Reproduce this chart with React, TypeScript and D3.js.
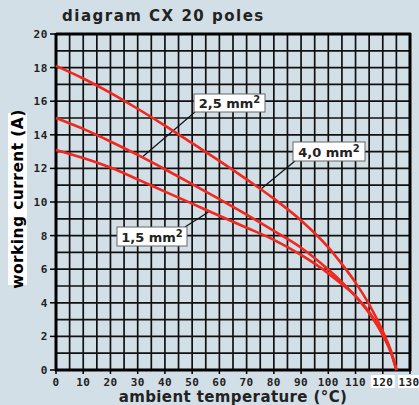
import React from "react";
import * as d3 from "d3";

const temps = [0, 10, 20, 30, 40, 50, 60, 70, 80, 90, 100, 105, 110, 115, 120, 123, 125];
const current40 = [18.1, 17.35, 16.5, 15.55, 14.55, 13.5, 12.45, 11.35, 10.2, 8.9, 7.3, 6.3, 5.2, 3.9, 2.3, 1.15, 0];
const current25 = [15.0, 14.35, 13.6, 12.8, 11.95, 11.07, 10.17, 9.25, 8.28, 7.28, 5.98, 5.23, 4.38, 3.38, 2.08, 1.06, 0];
const current15 = [13.1, 12.62, 12.05, 11.35, 10.62, 9.9, 9.18, 8.47, 7.75, 6.85, 5.75, 5.1, 4.4, 3.45, 2.1, 1.05, 0];

const xTicks = [0, 10, 20, 30, 40, 50, 60, 70, 80, 90, 100, 110, 120, 130];
const yTicks = [0, 2, 4, 6, 8, 10, 12, 14, 16, 18, 20];
const xGrid = d3.range(0, 131, 5);
const yGrid = d3.range(0, 21, 1);

const labels = [
  { text: "2,5 mm", t: 31.5, v: 12.65, bx: 194, by: 94, bw: 71, bh: 18, ax: 195, ay: 112 },
  { text: "1,5 mm", t: 56, v: 9.4, bx: 117, by: 227, bw: 70, bh: 19, ax: 185, ay: 227 },
  { text: "4,0 mm", t: 75.5, v: 10.8, bx: 293, by: 142, bw: 72, bh: 19, ax: 295, ay: 161 },
];

const W = 419;
const H = 405;
const BG = "#d3dfe6";
const RED = "#f0281e";

export default function App() {
  const x = d3.scaleLinear().domain([0, 130]).range([56, 410]);
  const y = d3.scaleLinear().domain([0, 20]).range([370, 34]);
  const line = d3
    .line<number>()
    .x((_, i) => x(temps[i]))
    .y((d) => y(d))
    .curve(d3.curveMonotoneX);
  const series = [current15, current25, current40];
  const mono = "'DejaVu Sans Mono', monospace";
  const sans = "'DejaVu Sans', sans-serif";

  return (
    <div style={{ position: "fixed", left: 0, top: 0 }}>
      <svg width={W} height={H} style={{ display: "block" }}>
        <rect x={0} y={0} width={W} height={H} fill={BG} />
        <text x={62} y={21} fontFamily={sans} fontWeight="bold" fontSize={15} letterSpacing={1.5} fill="#222">
          diagram CX 20 poles
        </text>
        {/* grid */}
        {xGrid.map((t) => (
          <line key={"gx" + t} x1={x(t)} x2={x(t)} y1={y(20)} y2={y(0)} stroke="#111" strokeWidth={1.7} />
        ))}
        {yGrid.map((v) => (
          <line key={"gy" + v} x1={x(0)} x2={x(130)} y1={y(v)} y2={y(v)} stroke="#111" strokeWidth={1.7} />
        ))}
        {/* frame */}
        <line x1={x(0)} x2={x(0)} y1={y(20) - 1} y2={y(0) + 1} stroke="#000" strokeWidth={3} />
        <line x1={x(0) - 1} x2={x(130) + 1} y1={y(0)} y2={y(0)} stroke="#000" strokeWidth={3} />
        <line x1={x(0)} x2={x(130) + 1} y1={y(20)} y2={y(20)} stroke="#000" strokeWidth={3} />
        <line x1={x(130)} x2={x(130)} y1={y(20) - 1} y2={y(0) + 1} stroke="#000" strokeWidth={3} />
        {/* y ticks */}
        {yTicks.map((v) => (
          <g key={"yt" + v}>
            <line x1={x(0) - 6} x2={x(0)} y1={y(v)} y2={y(v)} stroke="#000" strokeWidth={1.5} />
            <text x={x(0) - 8} y={y(v) + 4} textAnchor="end" fontFamily={mono} fontWeight="bold" fontSize={11} letterSpacing={0.6} fill="#222">
              {v}
            </text>
          </g>
        ))}
        {/* x ticks */}
        {xTicks.map((t) => {
          const white = t >= 120;
          return (
            <g key={"xt" + t}>
              <line x1={x(t)} x2={x(t)} y1={y(0)} y2={y(0) + 4} stroke="#000" strokeWidth={1.5} />
              {white && <rect x={x(t) - 12} y={y(0) + 5} width={24} height={13} fill="#fff" />}
              <text x={t === 130 ? x(t) - 1 : x(t)} y={y(0) + 16} textAnchor="middle" fontFamily={mono} fontWeight="bold" fontSize={11} letterSpacing={0.4} fill="#222">
                {t}
              </text>
            </g>
          );
        })}
        {/* axis titles */}
        <text x={233} y={402} textAnchor="middle" fontFamily={sans} fontWeight="bold" fontSize={15} letterSpacing={0.4} fill="#222">
          ambient temperature (°C)
        </text>
        <rect x={8} y={113} width={19} height={172} fill="#fff" />
        <text
          transform={`translate(23, 199) rotate(-90)`}
          textAnchor="middle"
          fontFamily={sans}
          fontWeight="bold"
          fontSize={15.5}
          letterSpacing={0.4}
          fill="#000"
        >
          working current (A)
        </text>
        {/* leader lines */}
        {labels.map((l) => (
          <line key={"ll" + l.text} x1={l.ax} y1={l.ay} x2={x(l.t)} y2={y(l.v)} stroke="#111" strokeWidth={1.2} />
        ))}
        {/* curves */}
        {series.map((s, i) => (
          <path key={"s" + i} d={line(s) || ""} fill="none" stroke={RED} strokeWidth={2.6} />
        ))}
        {/* label boxes */}
        {labels.map((l) => (
          <g key={"lb" + l.text}>
            <rect x={l.bx} y={l.by} width={l.bw} height={l.bh} fill="#fff" stroke="#666" strokeWidth={1} />
            <text x={l.bx + l.bw / 2} y={l.by + l.bh - 4.5} textAnchor="middle" fontFamily={sans} fontWeight="bold" fontSize={13} fill="#222">
              {l.text}
              <tspan dy={-5} fontSize={10}>2</tspan>
            </text>
          </g>
        ))}
      </svg>
    </div>
  );
}
